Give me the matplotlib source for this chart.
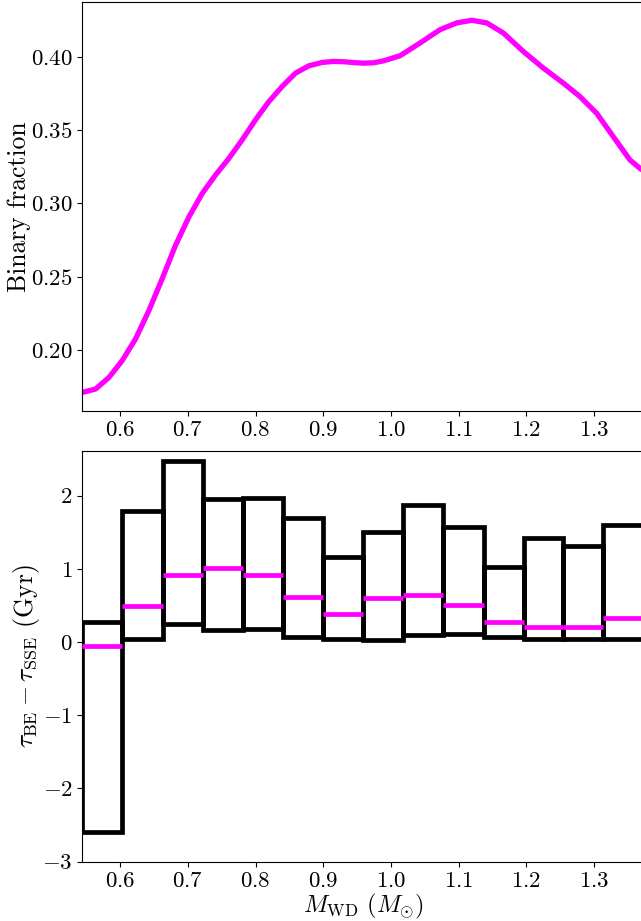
import numpy as np
import matplotlib
matplotlib.use("Agg")
import matplotlib.pyplot as plt

# --- font: Computer Modern look ---
plt.rcParams["font.family"] = "serif"
plt.rcParams["font.serif"] = ["cmr10", "DejaVu Serif"]
plt.rcParams["mathtext.fontset"] = "cm"
plt.rcParams["axes.formatter.use_mathtext"] = True
plt.rcParams["axes.unicode_minus"] = True

# --- top panel: binary fraction vs WD mass ---
mass_curve = [0.5439, 0.5635, 0.5833, 0.6029, 0.6226, 0.6424, 0.662, 0.6817,
              0.7015, 0.7211, 0.7408, 0.7606, 0.7802, 0.7999, 0.8197, 0.8393,
              0.859, 0.8787, 0.8984, 0.915, 0.930, 0.945, 0.960, 0.975,
              0.990, 1.0136, 1.0431, 1.0727, 1.0973, 1.1195, 1.1416, 1.1662,
              1.1957, 1.2252, 1.2548, 1.2794, 1.3041, 1.3287, 1.3533, 1.368,
              1.373]
bin_frac = [0.171, 0.1733, 0.1812, 0.1927, 0.2075, 0.2269, 0.2486, 0.2714,
            0.2908, 0.3068, 0.3194, 0.3308, 0.3434, 0.3571, 0.3696, 0.3799,
            0.389, 0.394, 0.3963, 0.3970, 0.3968, 0.3962, 0.3958, 0.3961,
            0.3975, 0.4009, 0.4096, 0.4187, 0.4233, 0.4251, 0.4233, 0.4164,
            0.4038, 0.3925, 0.3822, 0.373, 0.3616, 0.3456, 0.3297, 0.324,
            0.3225]

# --- bottom panel: age difference per mass bin ---
bin_edges = [0.544, 0.603, 0.663, 0.722, 0.781, 0.840, 0.900, 0.959, 1.018,
             1.077, 1.137, 1.196, 1.255, 1.314, 1.373]
q_low = [-2.59, 0.045, 0.241, 0.168, 0.182, 0.073, 0.036, 0.030, 0.096,
         0.105, 0.073, 0.036, 0.041, 0.045]
q_high = [0.277, 1.79, 2.477, 1.953, 1.963, 1.699, 1.166, 1.507, 1.872,
          1.567, 1.025, 1.425, 1.316, 1.598]
median = [-0.059, 0.487, 0.911, 1.007, 0.920, 0.610, 0.387, 0.597, 0.638,
          0.501, 0.273, 0.200, 0.209, 0.332]

fig = plt.figure(figsize=(6.41, 9.21), dpi=100)
ax1 = fig.add_axes([0.1284, 0.5537, 0.8752, 0.4445])
ax2 = fig.add_axes([0.1284, 0.0646, 0.8752, 0.4457])

ax1.plot(mass_curve, bin_frac, color="magenta", lw=3.8)
ax1.set_xlim(bin_edges[0], bin_edges[-1])
ax1.set_ylabel("Binary fraction", fontsize=18.5, labelpad=0)

edges = np.array(bin_edges)
left, right = edges[:-1], edges[1:]
lo, hi = np.array(q_low), np.array(q_high)
ax2.bar(left, hi - lo, bottom=lo, width=right - left, align="edge",
        fill=False, edgecolor="black", lw=3.4, zorder=2)
ax2.hlines(median, left, right, color="magenta", lw=3.4, zorder=3)
ax2.set_xlim(bin_edges[0], bin_edges[-1])
ax2.set_ylim(-3, 2.61)
ax2.set_yticks([-3, -2, -1, 0, 1, 2])
ax2.set_ylabel(r"$\tau_{\rm BE}-\tau_{\rm SSE}$ (Gyr)", fontsize=18.5,
               labelpad=0)
ax2.set_xlabel(r"$M_{\rm WD}$ ($M_{\odot}$)", fontsize=17.5, labelpad=1)

for ax in (ax1, ax2):
    ax.set_xticks([0.6, 0.7, 0.8, 0.9, 1.0, 1.1, 1.2, 1.3])
    ax.tick_params(labelsize=16.5)

fig.savefig("out.png", dpi=100)
